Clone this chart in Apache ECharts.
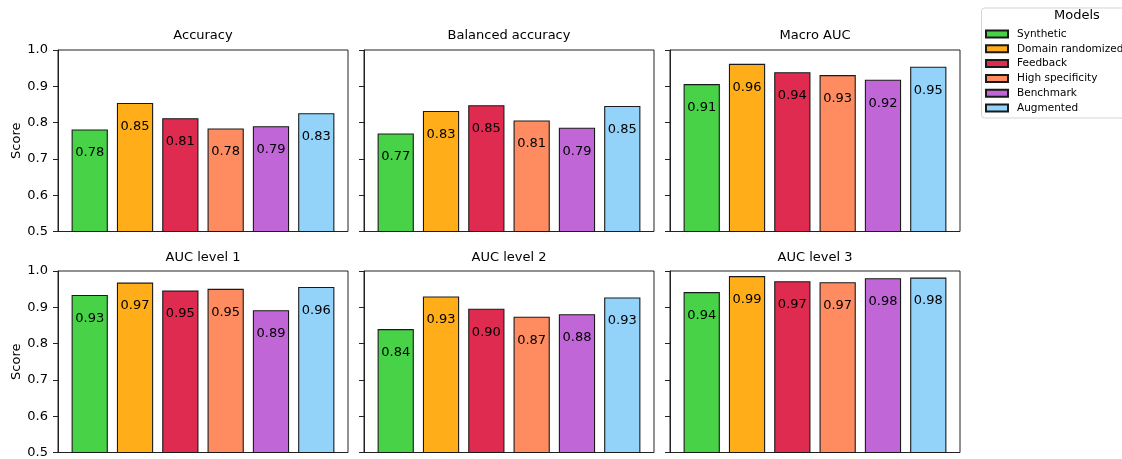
<!DOCTYPE html>
<html>
<head>
<meta charset="utf-8">
<script src="https://cdn.jsdelivr.net/npm/echarts@6/dist/echarts.min.js"></script>
<style>
html,body{margin:0;padding:0;background:#fff;}
#chart{width:1122px;height:459px;}
</style>
</head>
<body>
<div id="chart"></div>
<script>
const categories = ['Synthetic', 'Domain randomized', 'Feedback', 'High specificity', 'Benchmark', 'Augmented'];
const metrics = ['Accuracy', 'Balanced accuracy', 'Macro AUC', 'AUC level 1', 'AUC level 2', 'AUC level 3'];
const accuracy = [0.781, 0.854, 0.812, 0.784, 0.790, 0.826];
const balancedAccuracy = [0.770, 0.832, 0.848, 0.806, 0.786, 0.846];
const macroAUC = [0.906, 0.962, 0.939, 0.931, 0.918, 0.954];
const aucLevel1 = [0.934, 0.968, 0.946, 0.951, 0.892, 0.956];
const aucLevel2 = [0.840, 0.930, 0.896, 0.874, 0.881, 0.927];
const aucLevel3 = [0.942, 0.986, 0.972, 0.969, 0.980, 0.982];
const yTicks = [0.5, 0.6, 0.7, 0.8, 0.9, 1.0];
const colors = ['#47d247', '#ffae1a', '#df2b4f', '#ff8c61', '#c166d7', '#93d3fa'];

const panelValues = [accuracy, balancedAccuracy, macroAUC, aucLevel1, aucLevel2, aucLevel3];
const FONT = 'DejaVu Sans';
const colLeft = [58, 364, 670];
const rowTop = [50, 271];
const W = 290, H = 181.5;

const grids = [], xAxes = [], yAxes = [], titles = [], series = [];
panelValues.forEach((vals, p) => {
  const r = Math.floor(p / 3), c = p % 3;
  grids.push({left: colLeft[c], top: rowTop[r], width: W, height: H, show: true,
    borderColor: '#222', borderWidth: 1, backgroundColor: 'transparent', containLabel: false});
  xAxes.push({type: 'value', gridIndex: p, min: -0.7, max: 5.7, show: false});
  yAxes.push({type: 'value', gridIndex: p, min: yTicks[0], max: yTicks[yTicks.length - 1], interval: 0.1,
    splitLine: {show: false},
    axisLine: {show: true, onZero: false, lineStyle: {color: '#222', width: 1}},
    axisTick: {show: true, length: 5, lineStyle: {color: '#222', width: 1}},
    axisLabel: {show: c === 0, margin: 10, fontSize: 13, fontFamily: FONT, color: '#000',
      formatter: v => v.toFixed(1)},
    name: c === 0 ? 'Score' : '', nameLocation: 'middle', nameGap: 35,
    nameTextStyle: {fontSize: 13, fontFamily: FONT, color: '#000'}});
  titles.push({text: metrics[p], left: colLeft[c] + W / 2, top: r === 0 ? 29.5 : 251, textAlign: 'center', padding: 0,
    textStyle: {fontSize: 13, fontWeight: 'normal', fontFamily: FONT, color: '#000'}});
  categories.forEach((name, i) => {
    series.push({type: 'bar', name: name, xAxisIndex: p, yAxisIndex: p,
      barWidth: 36.25, barGap: '-100%', clip: true,
      itemStyle: {color: colors[i], borderColor: '#1a1a1a', borderWidth: 1.1},
      label: {show: true, position: 'insideTop', distance: 17, fontSize: 13, fontFamily: FONT, color: '#000',
        formatter: prm => (Math.round(prm.value[1] * 100) / 100).toFixed(2)},
      emphasis: {disabled: true},
      data: [[i, vals[i]]]});
  });
});

const chart = echarts.init(document.getElementById('chart'), null, {renderer: 'canvas'});
chart.setOption({
  animation: false,
  backgroundColor: '#fff',
  title: titles,
  grid: grids,
  xAxis: xAxes,
  yAxis: yAxes,
  legend: {orient: 'vertical', left: 985, top: 28.5, padding: 0, itemWidth: 22, itemHeight: 7, itemGap: 3.8,
    icon: 'rect', data: categories, selectedMode: false,
    textStyle: {fontSize: 10.5, fontFamily: FONT, color: '#000', padding: [0, 0, 0, 4]}},
  graphic: [
    {type: 'rect', left: 981, top: 7.5, z: -1, shape: {width: 160, height: 110, r: 3},
      style: {fill: '#fff', stroke: '#d5d5d5', lineWidth: 1}},
    {type: 'text', left: 1054, top: 9.5, style: {text: 'Models', fontSize: 13, fontFamily: FONT, fill: '#000', textAlign: 'center'}}
  ],
  series: series
});
</script>
</body>
</html>
